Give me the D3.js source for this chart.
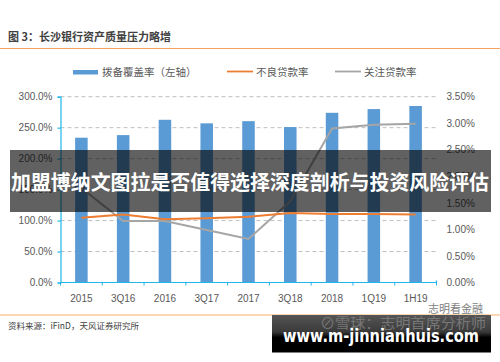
<!DOCTYPE html>
<html>
<head>
<meta charset="utf-8">
<script src="https://cdn.jsdelivr.net/npm/d3@7"></script>
<style>
  body { margin: 0; background: #fff; }
  svg { display: block; font-family: "Noto Sans CJK SC", "Noto Sans", sans-serif; }
</style>
</head>
<body>
<svg id="chart" width="500" height="362"></svg>
<script>
const categories = ['2015', '3Q16', '2016', '3Q17', '2017', '3Q18', '2018', '1Q19', '1H19']
const coverage = [233.8, 238.0, 262.7, 257.0, 260.5, 251.0, 274.0, 280.0, 285.0]   // 拨备覆盖率 %
const nplRatio = [1.22, 1.28, 1.19, 1.21, 1.24, 1.31, 1.29, 1.29, 1.28]           // 不良贷款率 %
const specialRatio = [1.78, 1.16, 1.16, 0.99, 0.82, 1.53, 2.90, 2.97, 2.99]       // 关注贷款率 %
const leftTicks = [0, 50, 100, 150, 200, 250, 300]
const rightTicks = [0, 0.5, 1, 1.5, 2, 2.5, 3, 3.5]

const svg = d3.select('#chart')
const plot = { left: 60.5, right: 436.5, top: 96.7, bottom: 282.5 }
const blue = '#5b9bd5', orange = '#ed7d31', grey = '#a5a5a5', axisBlue = '#1fb6ea', txt = '#595959'

var x = d3.scaleBand().domain(categories)
    .range([plot.left, plot.right])
    .paddingInner(0.7)
    .paddingOuter(0.35)
var yL = d3.scaleLinear().domain([0, 300]).range([plot.bottom, plot.top])
var yR = d3.scaleLinear().domain([0, 3.5]).range([plot.bottom, plot.top])
const cx = (c) => x(c) + x.bandwidth() / 2

// title + rules
svg.append('text').attr('x', 8).attr('y', 41)
    .style('font-size', '11px').style('font-weight', 'bold').attr('fill', '#404040')
    .text('图 3：长沙银行资产质量压力略增')
svg.append('line').attr('x1', 0).attr('x2', 500).attr('y1', 48.5).attr('y2', 48.5)
    .attr('stroke', '#f4a460').attr('stroke-width', 1.2)
svg.append('line').attr('x1', 0).attr('x2', 500).attr('y1', 315).attr('y2', 315)
    .attr('stroke', '#f8c89a').attr('stroke-width', 1.5)

// gridlines
svg.append('g').selectAll('line').data(leftTicks.slice(1)).enter().append('line')
    .attr('x1', plot.left).attr('x2', plot.right)
    .attr('y1', (d) => yL(d)).attr('y2', (d) => yL(d))
    .attr('stroke', '#bfbfbf').attr('stroke-dasharray', '4,3')

// bars
svg.append('g').selectAll('rect').data(coverage).enter().append('rect')
    .attr('x', (d, i) => x(categories[i]))
    .attr('width', x.bandwidth())
    .attr('y', (d) => yL(d))
    .attr('height', (d) => plot.bottom - yL(d))
    .attr('fill', blue)

// lines
const lineR = d3.line().x((d, i) => cx(categories[i])).y((d) => yR(d))
svg.append('path').datum(specialRatio).attr('d', lineR)
    .attr('fill', 'none').attr('stroke', grey).attr('stroke-width', 2)
svg.append('path').datum(nplRatio).attr('d', lineR)
    .attr('fill', 'none').attr('stroke', orange).attr('stroke-width', 2)

// axes
const axL = svg.append('g').attr('transform', `translate(${plot.left},0)`)
    .call(d3.axisLeft(yL).tickValues(leftTicks).tickSize(3).tickPadding(5)
        .tickFormat((d) => d.toFixed(1) + '%'))
const axR = svg.append('g').attr('transform', `translate(${plot.right},0)`)
    .call(d3.axisRight(yR).tickValues(rightTicks).tickSize(0).tickPadding(10)
        .tickFormat((d) => d.toFixed(2) + '%'))
axR.select('.domain').remove()
const axB = svg.append('g').attr('transform', `translate(0,${plot.bottom})`)
    .call(d3.axisBottom(x).tickSize(0).tickPadding(12))
axB.select('.domain').attr('d', `M${plot.left},0H${plot.right}V-2`)
// category boundary ticks
axB.selectAll('line.sep').data(d3.range(categories.length + 1)).enter().append('line')
    .attr('class', 'sep')
    .attr('x1', (i) => plot.left + i * x.step()).attr('x2', (i) => plot.left + i * x.step())
    .attr('y1', 0).attr('y2', 3)
    .attr('stroke', axisBlue)

svg.selectAll('.domain, .tick line').attr('stroke', axisBlue).attr('stroke-width', 1.2)
svg.selectAll('.tick text').attr('fill', txt).style('font-size', '10px')
    .style('font-family', 'Liberation Sans, Arial, sans-serif')

// legend
const lg = svg.append('g').style('font-size', '10.5px').attr('fill', txt)
lg.append('rect').attr('x', 73).attr('y', 70).attr('width', 25).attr('height', 4.5).attr('fill', blue)
lg.append('text').attr('x', 102).attr('y', 76).text('拨备覆盖率（左轴）')
lg.append('line').attr('x1', 227).attr('x2', 253).attr('y1', 71.5).attr('y2', 71.5)
    .attr('stroke', orange).attr('stroke-width', 1.8)
lg.append('text').attr('x', 256).attr('y', 76).text('不良贷款率')
lg.append('line').attr('x1', 335).attr('x2', 361).attr('y1', 71.5).attr('y2', 71.5)
    .attr('stroke', grey).attr('stroke-width', 1.8)
lg.append('text').attr('x', 364).attr('y', 76).text('关注贷款率')

// source
svg.append('text').attr('x', 8).attr('y', 329).style('font-size', '8.5px').attr('fill', '#404040')
    .text('资料来源：iFinD，天风证券研究所')

// watermarks
svg.append('text').attr('x', 428).attr('y', 313).style('font-size', '11px').attr('fill', '#7f7f7f')
    .text('志明看金融')
const grad = svg.append('defs').append('linearGradient').attr('id', 'fade')
    .attr('x1', 0).attr('x2', 0).attr('y1', 0).attr('y2', 1)
grad.append('stop').attr('offset', '0%').attr('stop-color', '#555')
grad.append('stop').attr('offset', '45%').attr('stop-color', '#3a3a3a')
grad.append('stop').attr('offset', '60%').attr('stop-color', '#000')
svg.append('rect').attr('x', 272).attr('y', 315).attr('width', 219).attr('height', 37.5)
    .attr('fill', 'url(#fade)')
svg.append('text').attr('x', 320).attr('y', 328).style('font-size', '14px').attr('fill', '#777')
    .attr('textLength', 166).attr('lengthAdjust', 'spacingAndGlyphs')
    .text('⊘雪球：志明首席分析师')
svg.append('text').attr('x', 283).attr('y', 342)
    .style('font-size', '17px').style('font-weight', 'bold').attr('fill', '#fff')
    .style('font-family', 'DejaVu Sans, sans-serif')
    .attr('textLength', 196).attr('lengthAdjust', 'spacingAndGlyphs')
    .text('www.m-jinnianhuis.com')

// overlay banner
svg.append('rect').attr('x', 10).attr('y', 150).attr('width', 481).attr('height', 62)
    .attr('fill', 'rgba(0,0,0,0.62)')
svg.append('text').attr('x', 11).attr('y', 190)
    .style('font-size', '20.5px').style('font-weight', 'bold').attr('fill', '#fff')
    .attr('textLength', 478).attr('lengthAdjust', 'spacingAndGlyphs')
    .text('加盟博纳文图拉是否值得选择深度剖析与投资风险评估')
</script>
</body>
</html>
